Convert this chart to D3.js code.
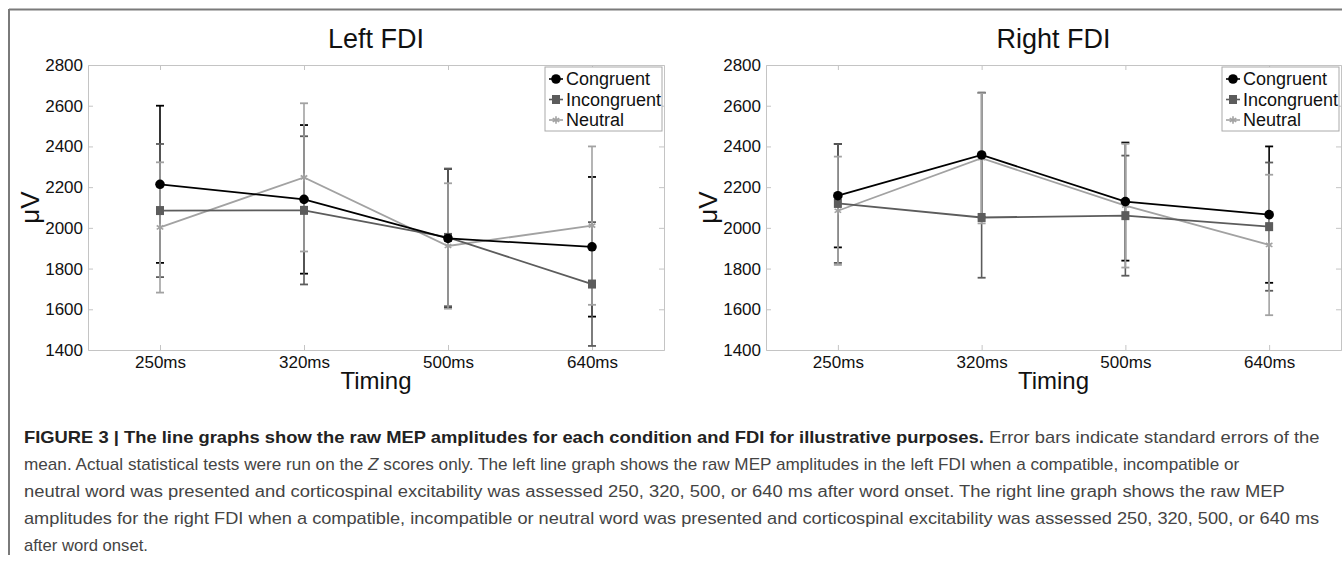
<!DOCTYPE html>
<meta charset="utf-8">
<script src="https://d3js.org/d3.v7.min.js"></script>
<style>
  body { margin: 0; background: #fff; }
  svg { display: block; font-family: "Liberation Sans", Arial, sans-serif; }
</style>
<div id="chart"></div>
<script>
  // Data (µV, mean and standard error)
  const timings = ["250ms", "320ms", "500ms", "640ms"];
  const conditions = ["Congruent", "Incongruent", "Neutral"];
  const yTicks = [1400, 1600, 1800, 2000, 2200, 2400, 2600, 2800];

  const leftCongruent = [2214, 2140, 1948, 1907];
  const leftCongruentSE = [386, 365, 342, 343];
  const leftIncongruent = [2085, 2086, 1953, 1724];
  const leftIncongruentSE = [327, 364, 338, 304];
  const leftNeutral = [2002, 2248, 1911, 2011];
  const leftNeutralSE = [320, 364, 308, 389];

  const rightCongruent = [2158, 2358, 2129, 2065];
  const rightCongruentSE = [254, 306, 290, 335];
  const rightIncongruent = [2120, 2051, 2060, 2006];
  const rightIncongruentSE = [292, 296, 295, 315];
  const rightNeutral = [2084, 2342, 2109, 1916];
  const rightNeutralSE = [266, 320, 304, 345];

  const colors = {Congruent: "#000000", Incongruent: "#5c5c5c", Neutral: "#a2a2a2"};

  const width = 1342, height = 562;
  const plotTop = 65, plotBottom = 350;

  const svg = d3.select("#chart").append("svg")
    .attr("width", width)
    .attr("height", height);

  // frame of the figure
  svg.append("line").attr("x1", 9).attr("x2", width).attr("y1", 9.5).attr("y2", 9.5)
    .attr("stroke", "#7a7a7a").attr("stroke-width", 2);
  svg.append("line").attr("x1", 9).attr("x2", 9).attr("y1", 9).attr("y2", 555)
    .attr("stroke", "#7a7a7a").attr("stroke-width", 2);

  function marker(g, cond, cx, cy) {
    if (cond === "Congruent") {
      g.append("circle").attr("cx", cx).attr("cy", cy).attr("r", 4.8)
        .attr("fill", colors[cond]);
    } else if (cond === "Incongruent") {
      g.append("rect").attr("x", cx - 4).attr("y", cy - 4.5)
        .attr("width", 8).attr("height", 9).attr("fill", colors[cond]);
    } else {
      g.append("path").attr("d", d3.symbol(d3.symbolAsterisk, 40)())
        .attr("transform", `translate(${cx},${cy})`)
        .attr("stroke", colors[cond]).attr("stroke-width", 1.6).attr("fill", "none");
    }
  }

  function panel(title, left, right, series) {
    const x = d3.scalePoint().domain(timings).range([left, right]).padding(0.5);
    const y = d3.scaleLinear().domain([1400, 2800]).range([plotBottom, plotTop]);
    const g = svg.append("g");

    // axes box
    const axisColor = "#c4c4c4";
    const ax = [
      g.append("g").attr("transform", `translate(${left},0)`)
        .call(d3.axisLeft(y).tickValues(yTicks).tickFormat(d3.format("d")).tickSize(-5).tickPadding(5)),
      g.append("g").attr("transform", `translate(${right},0)`)
        .call(d3.axisRight(y).tickValues(yTicks).tickSize(-5).tickFormat("")),
      g.append("g").attr("transform", `translate(0,${plotTop})`)
        .call(d3.axisTop(x).tickSize(-5).tickSizeOuter(0).tickFormat("")),
      g.append("g").attr("transform", `translate(0,${plotBottom})`)
        .call(d3.axisBottom(x).tickSize(-5).tickSizeOuter(0).tickPadding(6))
    ];
    ax.forEach(a => {
      a.select(".domain").attr("stroke", axisColor);
      a.selectAll(".tick line").attr("stroke", axisColor);
      a.selectAll("text").attr("font-size", 17).attr("fill", "#111")
        .attr("font-family", "Liberation Sans, Arial, sans-serif");
    });
    ax[0].selectAll(".tick").filter(d => d === 1400 || d === 2800).select("line").remove();

    g.append("text").attr("x", (left + right) / 2).attr("y", 48)
      .attr("text-anchor", "middle").attr("font-size", 27).attr("fill", "#111").text(title);
    g.append("text").attr("x", (left + right) / 2).attr("y", 389)
      .attr("text-anchor", "middle").attr("font-size", 24).attr("fill", "#111").text("Timing");
    g.append("text").attr("transform", `translate(${left - 58},${(plotTop + plotBottom) / 2}) rotate(-90)`)
      .attr("text-anchor", "middle").attr("dy", "0.35em")
      .attr("font-size", 26).attr("fill", "#111").text("\u03bcV");

    // error bars
    series.forEach(s => {
      s.mean.forEach((m, i) => {
        const cx = x(timings[i]);
        const y1 = y(m - s.se[i]), y2 = y(m + s.se[i]);
        g.append("line").attr("x1", cx).attr("x2", cx).attr("y1", y1).attr("y2", y2)
          .attr("stroke", colors[s.name]).attr("stroke-width", 1.6);
        [y1, y2].forEach(yy => g.append("line")
          .attr("x1", cx - 4).attr("x2", cx + 4).attr("y1", yy).attr("y2", yy)
          .attr("stroke", colors[s.name]).attr("stroke-width", 1.8));
      });
    });

    // lines
    const line = d3.line().x((d, i) => x(timings[i])).y(d => y(d));
    series.slice().reverse().forEach(s => {
      g.append("path").attr("d", line(s.mean)).attr("fill", "none")
        .attr("stroke", colors[s.name]).attr("stroke-width", 1.8);
    });
    series.slice().reverse().forEach(s => {
      s.mean.forEach((m, i) => marker(g, s.name, x(timings[i]), y(m)));
    });

    // legend
    const lg = g.append("g").attr("transform", `translate(${right - 119},${plotTop + 2})`);
    lg.append("rect").attr("width", 117).attr("height", 64)
      .attr("fill", "#fff").attr("stroke", "#aaa");
    conditions.forEach((c, i) => {
      const yy = 12 + i * 20.5;
      lg.append("line").attr("x1", 4).attr("x2", 18).attr("y1", yy).attr("y2", yy)
        .attr("stroke", colors[c]).attr("stroke-width", 1.6);
      marker(lg, c, 11, yy);
      lg.append("text").attr("x", 21).attr("y", yy).attr("dy", "0.35em")
        .attr("font-size", 18).attr("fill", "#111").text(c);
    });
  }

  panel("Left FDI", 88, 664, [
    {name: "Congruent", mean: leftCongruent, se: leftCongruentSE},
    {name: "Incongruent", mean: leftIncongruent, se: leftIncongruentSE},
    {name: "Neutral", mean: leftNeutral, se: leftNeutralSE}
  ]);
  panel("Right FDI", 766, 1341, [
    {name: "Congruent", mean: rightCongruent, se: rightCongruentSE},
    {name: "Incongruent", mean: rightIncongruent, se: rightIncongruentSE},
    {name: "Neutral", mean: rightNeutral, se: rightNeutralSE}
  ]);

  // caption
  const captionLines = [
    [{t: "FIGURE 3 | The line graphs show the raw MEP amplitudes for each condition and FDI for illustrative purposes.", b: true},
     {t: " Error bars indicate standard errors of the"}],
    [{t: "mean. Actual statistical tests were run on the "}, {t: "Z", i: true},
     {t: " scores only. The left line graph shows the raw MEP amplitudes in the left FDI when a compatible, incompatible or"}],
    [{t: "neutral word was presented and corticospinal excitability was assessed 250, 320, 500, or 640 ms after word onset. The right line graph shows the raw MEP"}],
    [{t: "amplitudes for the right FDI when a compatible, incompatible or neutral word was presented and corticospinal excitability was assessed 250, 320, 500, or 640 ms"}],
    [{t: "after word onset."}]
  ];
  const captionWidths = [1296, 1216, 1262, 1296, 124];
  captionLines.forEach((parts, i) => {
    const t = svg.append("text").attr("x", 0).attr("y", 0)
      .attr("font-size", 16).attr("fill", "#444");
    parts.forEach(p => t.append("tspan").text(p.t)
      .attr("font-weight", p.b ? "bold" : null)
      .attr("font-style", p.i ? "italic" : null)
      .attr("fill", p.b ? "#222" : null));
    const w = t.node().getComputedTextLength();
    t.attr("transform", `translate(24,${443 + i * 27}) scale(${captionWidths[i] / w},1)`);
  });
</script>
